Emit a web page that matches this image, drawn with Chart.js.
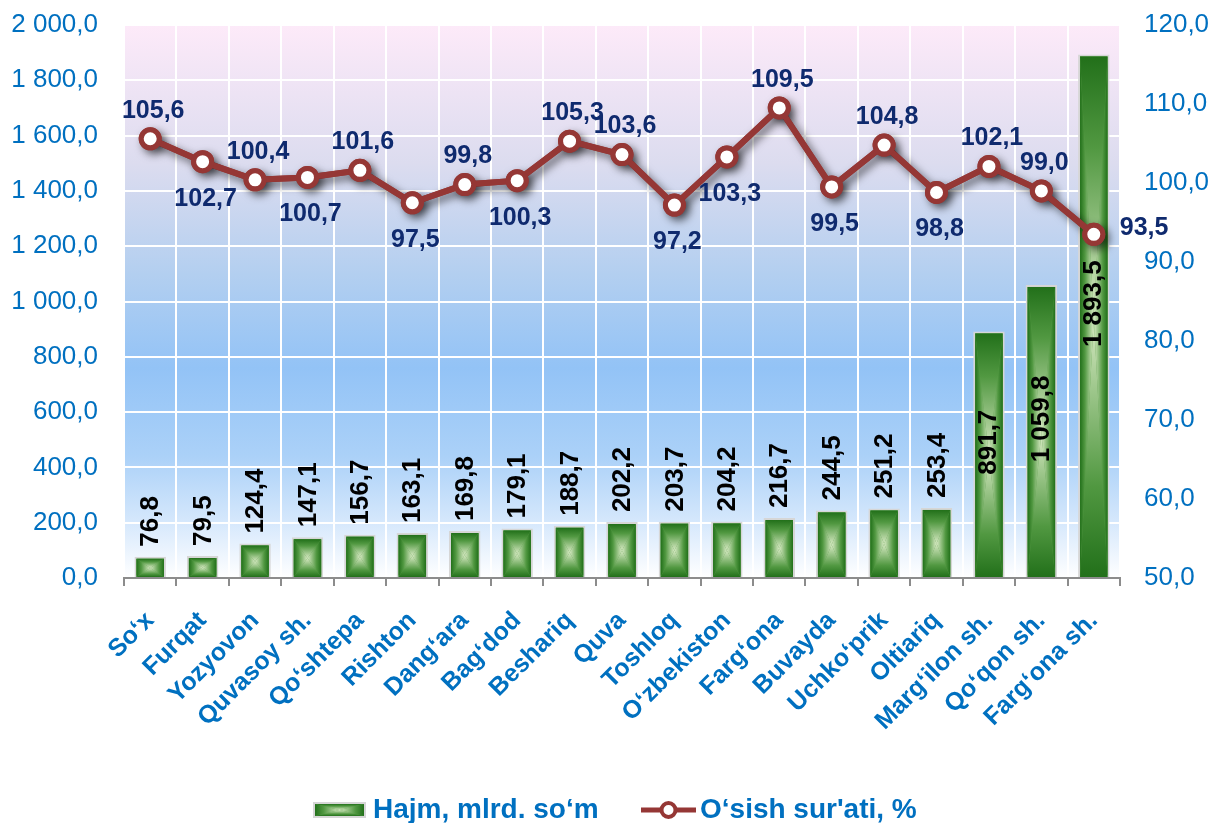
<!DOCTYPE html>
<html>
<head>
<meta charset="utf-8">
<script src="https://cdn.jsdelivr.net/npm/chart.js@4.4.1/dist/chart.umd.min.js"></script>
<style>
  body { margin: 0; background: #fff; }
</style>
</head>
<body>
<canvas id="chart" width="1213" height="823"></canvas>
<script>
// districts of Fergana region
const districts = ['So‘x', 'Furqat', 'Yozyovon', 'Quvasoy sh.', 'Qo‘shtepa', 'Rishton', 'Dang‘ara',
  'Bag‘dod', 'Beshariq', 'Quva', 'Toshloq', 'O‘zbekiston', 'Farg‘ona', 'Buvayda', 'Uchko‘prik',
  'Oltiariq', 'Marg‘ilon sh.', 'Qo‘qon sh.', 'Farg‘ona sh.'];

const volume = [76.8, 79.5, 124.4, 147.1, 156.7, 163.1, 169.8, 179.1, 188.7, 202.2, 203.7, 204.2,
  216.7, 244.5, 251.2, 253.4, 891.7, 1059.8, 1893.5];

const growth = [105.6, 102.7, 100.4, 100.7, 101.6, 97.5, 99.8, 100.3, 105.3, 103.6, 97.2, 103.3,
  109.5, 99.5, 104.8, 98.8, 102.1, 99.0, 93.5];

// where each growth label sits relative to its point
const growthLabelSide = ['above', 'below', 'above', 'below', 'above', 'below', 'above', 'below',
  'above', 'above', 'below', 'below', 'above', 'below', 'above', 'below', 'above', 'above', 'right'];

const volumeLabel = 'Hajm, mlrd. so‘m';
const growthLabel = 'O‘sish sur\'ati, %';

const FONT = "'Liberation Sans', Arial, sans-serif";
const BLUE = '#0070c0';
const NAVY = '#0f2a6e';
const RED = '#953735';

const fmt = (v) => {
  const p = Number(v).toFixed(1).split('.');
  return p[0].replace(/\B(?=(\d{3})+(?!\d))/g, ' ') + ',' + p[1];
};

// rectangular "path" gradient like office bars
function pathGradient(ctx, x0, y0, x1, y1) {
  const cx = (x0 + x1) / 2, cy = (y0 + y1) / 2;
  const stops = (g) => {
    g.addColorStop(0, '#22701a');
    g.addColorStop(0.35, '#519841');
    g.addColorStop(1, '#d8eac4');
    return g;
  };
  ctx.save();
  ctx.fillStyle = '#519841';
  ctx.fillRect(x0, y0, x1 - x0, y1 - y0);
  const parts = [
    [[x0, y0], [x1, y0], ctx.createLinearGradient(0, y0, 0, cy)],
    [[x0, y1], [x1, y1], ctx.createLinearGradient(0, y1, 0, cy)],
    [[x0, y0], [x0, y1], ctx.createLinearGradient(x0, 0, cx, 0)],
    [[x1, y0], [x1, y1], ctx.createLinearGradient(x1, 0, cx, 0)]
  ];
  parts.forEach(([a, b, g]) => {
    ctx.beginPath();
    ctx.moveTo(a[0], a[1]);
    ctx.lineTo(b[0], b[1]);
    ctx.lineTo(cx, cy);
    ctx.closePath();
    ctx.fillStyle = stops(g);
    ctx.fill();
  });
  ctx.restore();
}

const plotBg = {
  id: 'plotBg',
  beforeDraw(chart) {
    const { ctx, chartArea: a } = chart;
    const g = ctx.createLinearGradient(0, a.top, 0, a.bottom);
    g.addColorStop(0, '#fdeaf9');
    g.addColorStop(0.25, '#dcdcef');
    g.addColorStop(0.45, '#b3cff0');
    g.addColorStop(0.62, '#93c3f6');
    g.addColorStop(0.78, '#abd1f8');
    g.addColorStop(0.9, '#d6e8fc');
    g.addColorStop(1, '#ffffff');
    ctx.save();
    ctx.fillStyle = g;
    ctx.fillRect(a.left, a.top, a.right - a.left, a.bottom - a.top);
    ctx.restore();
  }
};

const effects = {
  id: 'effects',
  beforeDatasetDraw(chart, args) {
    if (args.index !== 1) return;
    // soft shadow under the line and markers, drawn before the line itself
    const ctx = chart.ctx;
    const pts = chart.getDatasetMeta(1).data;
    ctx.save();
    ctx.shadowColor = 'rgba(0,0,0,0.6)';
    ctx.shadowBlur = 9;
    ctx.shadowOffsetX = 4;
    ctx.shadowOffsetY = 4;
    ctx.strokeStyle = RED;
    ctx.fillStyle = RED;
    ctx.lineWidth = 6;
    ctx.lineJoin = 'round';
    ctx.beginPath();
    pts.forEach((p, i) => (i ? ctx.lineTo(p.x, p.y) : ctx.moveTo(p.x, p.y)));
    ctx.stroke();
    pts.forEach((p) => {
      ctx.beginPath();
      ctx.arc(p.x, p.y, 11.5, 0, Math.PI * 2);
      ctx.fill();
    });
    ctx.restore();
  },
  afterDatasetDraw(chart, args) {
    if (args.index !== 0) return;
    const bw = 2;
    chart.getDatasetMeta(0).data.forEach((bar) => {
      const top = Math.min(bar.y, bar.base), bot = Math.max(bar.y, bar.base);
      pathGradient(chart.ctx, bar.x - bar.width / 2 + bw, top + bw, bar.x + bar.width / 2 - bw, bot);
    });
  },
  afterDatasetsDraw(chart) {
    const ctx = chart.ctx;
    ctx.save();
    // bar values, vertical
    ctx.fillStyle = '#000';
    ctx.font = 'bold 26px ' + FONT;
    ctx.textBaseline = 'middle';
    chart.getDatasetMeta(0).data.forEach((bar, i) => {
      ctx.save();
      if (volume[i] > 800) {
        ctx.translate(bar.x, (bar.y + bar.base) / 2 - 12);
        ctx.rotate(-Math.PI / 2);
        ctx.textAlign = 'center';
      } else {
        ctx.translate(bar.x + 1, bar.y - 10);
        ctx.rotate(-Math.PI / 2);
        ctx.textAlign = 'left';
      }
      ctx.fillText(fmt(volume[i]), 0, 0);
      ctx.restore();
    });
    // growth labels
    ctx.fillStyle = NAVY;
    ctx.font = 'bold 25px ' + FONT;
    chart.getDatasetMeta(1).data.forEach((pt, i) => {
      const side = growthLabelSide[i];
      if (side === 'right') {
        ctx.textAlign = 'left';
        ctx.fillText(fmt(growth[i]), pt.x + 26, pt.y - 6);
      } else {
        ctx.textAlign = 'center';
        ctx.fillText(fmt(growth[i]), pt.x + 3, side === 'above' ? pt.y - 28 : pt.y + 37);
      }
    });
    ctx.restore();
  },
  afterDraw(chart) {
    // legend
    const ctx = chart.ctx;
    const ly = 810;
    ctx.save();
    ctx.fillStyle = '#d6d6d6';
    ctx.fillRect(313, 802, 53, 16);
    pathGradient(ctx, 315, 804, 364, 816);
    ctx.strokeStyle = RED;
    ctx.lineWidth = 5;
    ctx.beginPath();
    ctx.moveTo(641, ly);
    ctx.lineTo(696, ly);
    ctx.stroke();
    ctx.beginPath();
    ctx.arc(668.5, ly, 7, 0, Math.PI * 2);
    ctx.fillStyle = '#fff';
    ctx.fill();
    ctx.lineWidth = 4;
    ctx.stroke();
    ctx.fillStyle = BLUE;
    ctx.font = 'bold 28px ' + FONT;
    ctx.textBaseline = 'middle';
    ctx.textAlign = 'left';
    ctx.fillText(chart.data.datasets[0].label, 373, ly);
    ctx.fillText(chart.data.datasets[1].label, 700, ly);
    ctx.restore();
  }
};

const fitY = (w) => (s) => {
  s.width = w;
  s.paddingTop = 0;
  s.paddingBottom = 0;
};

new Chart(document.getElementById('chart').getContext('2d'), {
  data: {
    labels: districts,
    datasets: [
      {
        type: 'bar',
        label: volumeLabel,
        data: volume,
        yAxisID: 'y',
        order: 2,
        backgroundColor: '#519841',
        borderColor: '#d6d6d6',
        borderWidth: 2,
        borderSkipped: false,
        barPercentage: 0.6,
        categoryPercentage: 1.0
      },
      {
        type: 'line',
        label: growthLabel,
        data: growth,
        yAxisID: 'y1',
        order: 1,
        borderColor: RED,
        borderWidth: 6,
        pointRadius: 9,
        pointBorderWidth: 5,
        pointBackgroundColor: '#fff',
        pointBorderColor: RED,
        tension: 0
      }
    ]
  },
  options: {
    responsive: false,
    animation: false,
    layout: { padding: { top: 25 } },
    plugins: {
      legend: { display: false },
      tooltip: { enabled: false }
    },
    scales: {
      x: {
        afterFit: (s) => { s.height = 245; },
        grid: { color: '#ffffff', lineWidth: 2, tickColor: '#8c8c8c', tickLength: 8, offset: true },
        border: { color: '#8c8c8c', width: 2 },
        ticks: {
          autoSkip: false, maxRotation: 45, minRotation: 45, padding: 20,
          color: BLUE, font: { family: FONT, size: 25, weight: 'bold' }
        }
      },
      y: {
        position: 'left',
        min: 0, max: 2000,
        afterFit: fitY(124),
        grid: { color: '#ffffff', lineWidth: 2, drawTicks: false },
        border: { display: false },
        ticks: {
          stepSize: 200, padding: 26, color: BLUE,
          font: { family: FONT, size: 26 },
          callback: (v) => fmt(v)
        }
      },
      y1: {
        position: 'right',
        min: 50, max: 120,
        afterFit: fitY(93),
        grid: { drawOnChartArea: false, drawTicks: false },
        border: { display: false },
        ticks: {
          stepSize: 10, padding: 24, color: BLUE,
          font: { family: FONT, size: 26 },
          callback: (v) => fmt(v)
        }
      }
    }
  },
  plugins: [plotBg, effects]
});
</script>
</body>
</html>
